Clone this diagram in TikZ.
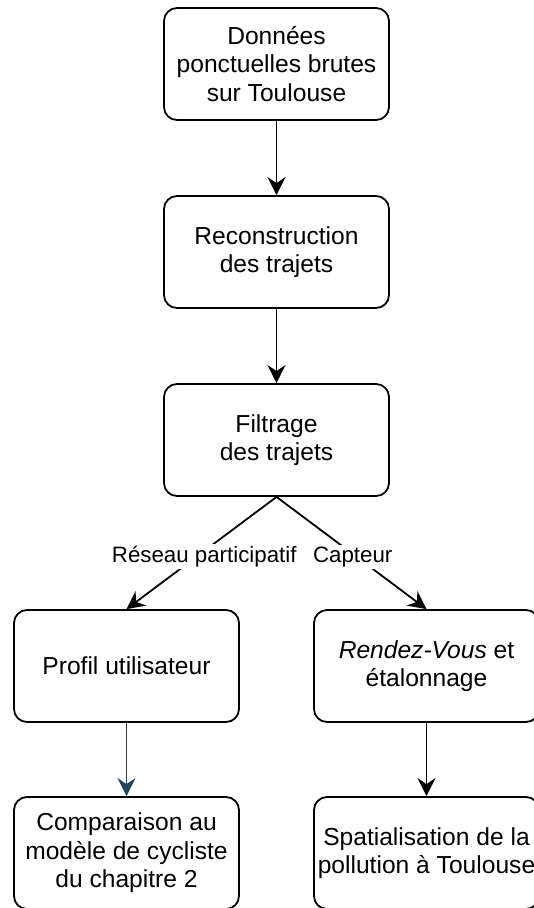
\documentclass[tikz,border=0pt]{standalone}
\usepackage{fontspec}
\setmainfont{Liberation Sans}
\usetikzlibrary{arrows.meta}
\definecolor{arrowblue}{HTML}{23445D}
\begin{document}
\begin{tikzpicture}[x=1pt,y=-1pt,
  box/.style={draw, line width=1.8pt, rounded corners=13pt, minimum width=225pt, minimum height=112pt, align=center, inner sep=0pt, font=\fontsize{24.6}{28.5}\selectfont},
  conn/.style={line width=1.8pt, -{Stealth[length=18pt,width=18pt,inset=6pt]}},
  lbl/.style={fill=white, inner sep=2pt, font=\fontsize{22.3}{27}\selectfont}]
\clip (0,0) rectangle (534,908);
\node[box] (src) at (276.5,64) {Données\\ponctuelles brutes\\sur Toulouse};
\node[box] (rec) at (276.5,252) {Reconstruction\\des trajets};
\node[box] (fil) at (276.5,440) {Filtrage\\des trajets};
\node[box] (pro) at (126.5,666) {Profil utilisateur};
\node[box] (rdv) at (426.5,666) {\textit{Rendez-Vous} et\\étalonnage};
\node[box] (cmp) at (126.5,853) {Comparaison au\\modèle de cycliste\\du chapitre 2};
\node[box] (spa) at (426.5,853) {Spatialisation de la\\pollution à Toulouse};
\draw[conn] (src) -- (rec);
\draw[conn] (rec) -- (fil);
\draw[conn] (fil.south) -- (pro.north) node[lbl, pos=0.535, xshift=8pt] (l1) {Réseau participatif};
\draw[conn] (fil.south) -- (rdv.north) node[lbl, pos=0.535, xshift=-4pt] (l2) {Capteur};
\draw[conn, draw=arrowblue, fill=arrowblue] (pro) -- (cmp);
\draw[conn] (rdv) -- (spa);
\end{tikzpicture}
\end{document}
